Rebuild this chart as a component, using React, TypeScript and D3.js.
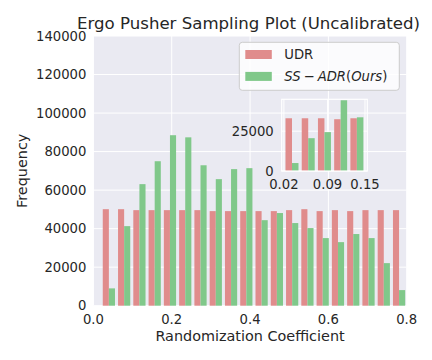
import * as d3 from "d3";
import React from "react";

// histogram bin edges + counts
const binEdges = [
  0.02, 0.059, 0.098, 0.137, 0.176, 0.215, 0.254, 0.293, 0.332, 0.371, 0.41,
  0.449, 0.488, 0.527, 0.566, 0.605, 0.644, 0.683, 0.722, 0.761, 0.8,
];
const udrCounts = [
  50100, 50100, 49600, 49600, 49600, 49600, 49600, 49100, 49100, 49100, 49100,
  49100, 49600, 50100, 49100, 49600, 49100, 49600, 49600, 49600,
];
const ssAdrCounts = [
  9000, 41300, 63100, 75000, 88500, 87400, 72900, 65700, 70900, 71400, 44400,
  48100, 42900, 40300, 35100, 33000, 37200, 35100, 22100, 8100,
];
const xTicks = [0.0, 0.2, 0.4, 0.6, 0.8];
const yTicks = [0, 20000, 40000, 60000, 80000, 100000, 120000, 140000];

// zoomed inset (first part of the range)
const insetEdges = [0.02, 0.046, 0.072, 0.098, 0.124, 0.15];
const insetUdr = [33100, 33100, 33100, 32500, 33100];
const insetSsAdr = [5000, 20600, 24400, 44400, 33700];
const insetXTicks = [0.02, 0.09, 0.15];
const insetYTicks = [0, 25000];

const seriesNames = ["UDR", "SS-ADR(Ours)"];
const colors = ["#e08c8c", "#80c88a"];

const FONT = "DejaVu Sans, sans-serif";
const TEXT = "#262626";
const BG = "#eaeaf2";

const App = () => {
  const ref = React.useRef<SVGSVGElement>(null);

  React.useEffect(() => {
    const svg = d3.select(ref.current);
    svg.selectAll("*").remove();

    const margin = { top: 36, left: 93.4, right: 25.3, bottom: 54.3 };
    const width = 432 - margin.left - margin.right,
      height = 360 - margin.top - margin.bottom;

    const graph = svg
      .append("g")
      .attr("transform", `translate(${margin.left},${margin.top})`);

    graph
      .append("rect")
      .attr("width", width)
      .attr("height", height)
      .attr("fill", BG);

    const x = d3.scaleLinear().domain([0, 0.8]).range([0, width]);
    const y = d3.scaleLinear().domain([0, 140000]).range([height, 0]);

    // grid
    graph
      .selectAll(".gx")
      .data(xTicks)
      .enter()
      .append("line")
      .attr("x1", (d) => x(d))
      .attr("x2", (d) => x(d))
      .attr("y1", 0)
      .attr("y2", height)
      .attr("stroke", "white")
      .attr("stroke-width", 1);
    graph
      .selectAll(".gy")
      .data(yTicks)
      .enter()
      .append("line")
      .attr("x1", 0)
      .attr("x2", width)
      .attr("y1", (d) => y(d))
      .attr("y2", (d) => y(d))
      .attr("stroke", "white")
      .attr("stroke-width", 1);

    // bars: matplotlib style side-by-side hist (rwidth 0.8 split in 2)
    const drawHist = (g, xs, ys, edges, series) => {
      series.forEach((vals, si) => {
        g.selectAll(".bar" + si)
          .data(vals)
          .enter()
          .append("rect")
          .attr("x", (d, i) => {
            const w = edges[i + 1] - edges[i];
            return xs(edges[i] + 0.1 * w + si * 0.4 * w);
          })
          .attr("width", (d, i) => {
            const w = edges[i + 1] - edges[i];
            return xs(edges[i] + 0.4 * w) - xs(edges[i]);
          })
          .attr("y", (d) => ys(d))
          .attr("height", (d) => ys(0) - ys(d))
          .attr("fill", colors[si]);
      });
    };
    drawHist(graph, x, y, binEdges, [udrCounts, ssAdrCounts]);

    // tick labels
    graph
      .selectAll(".xt")
      .data(xTicks)
      .enter()
      .append("text")
      .attr("x", (d) => x(d))
      .attr("y", height + 18.5)
      .attr("text-anchor", "middle")
      .attr("font-family", FONT)
      .attr("font-size", 13.2)
      .attr("fill", TEXT)
      .text((d) => d.toFixed(1));
    graph
      .selectAll(".yt")
      .data(yTicks)
      .enter()
      .append("text")
      .attr("x", -7)
      .attr("y", (d) => y(d))
      .attr("dy", "0.35em")
      .attr("text-anchor", "end")
      .attr("font-family", FONT)
      .attr("font-size", 13.2)
      .attr("fill", TEXT)
      .text((d) => d);

    // axis labels + title
    graph
      .append("text")
      .attr("x", width / 2)
      .attr("y", height + 35.5)
      .attr("text-anchor", "middle")
      .attr("font-family", FONT)
      .attr("font-size", 14.4)
      .attr("fill", TEXT)
      .text("Randomization Coefficient");
    graph
      .append("text")
      .attr("transform", `translate(${-66},${height / 2}) rotate(-90)`)
      .attr("text-anchor", "middle")
      .attr("font-family", FONT)
      .attr("font-size", 14.4)
      .attr("fill", TEXT)
      .text("Frequency");
    graph
      .append("text")
      .attr("x", width / 2 - 1.5)
      .attr("y", -6.7)
      .attr("text-anchor", "middle")
      .attr("font-family", FONT)
      .attr("font-size", 16.6)
      .attr("fill", TEXT)
      .text("Ergo Pusher Sampling Plot (Uncalibrated)");

    // legend
    const legend = graph
      .append("g")
      .attr("transform", `translate(${239.3 - margin.left},${42.3 - margin.top})`);
    legend
      .append("rect")
      .attr("width", 160)
      .attr("height", 48)
      .attr("rx", 3)
      .attr("fill", "white")
      .attr("fill-opacity", 0.8)
      .attr("stroke", "#cccccc")
      .attr("stroke-width", 1);
    seriesNames.forEach((name, i) => {
      legend
        .append("rect")
        .attr("x", 6)
        .attr("y", 7.7 + i * 21.9)
        .attr("width", 26.5)
        .attr("height", 9)
        .attr("fill", colors[i]);
    });
    legend
      .append("text")
      .attr("x", 45)
      .attr("y", 17.2)
      .attr("font-family", FONT)
      .attr("font-size", 13.2)
      .attr("fill", TEXT)
      .text(seriesNames[0]);
    const t2 = legend
      .append("text")
      .attr("x", 45)
      .attr("y", 39.1)
      .attr("font-family", FONT)
      .attr("font-size", 13.2)
      .attr("fill", TEXT);
    t2.append("tspan").attr("font-style", "italic").text("SS");
    t2.append("tspan").attr("dx", 3).text("\u2212");
    t2.append("tspan").attr("dx", 3).attr("font-style", "italic").text("ADR");
    t2.append("tspan").text("(");
    t2.append("tspan").attr("font-style", "italic").text("Ours");
    t2.append("tspan").text(")");

    // inset axes
    const inset = { left: 281.7, top: 99.3, right: 367.3, bottom: 171 };
    const ig = svg
      .append("g")
      .attr("transform", `translate(${inset.left},${inset.top})`);
    const iw = inset.right - inset.left,
      ih = inset.bottom - inset.top;
    const ix = d3.scaleLinear().domain([0.0165, 0.1537]).range([0, iw]);
    const iy = d3.scaleLinear().domain([0, 45000]).range([ih, 0]);

    ig.selectAll(".igx")
      .data(insetXTicks)
      .enter()
      .append("line")
      .attr("x1", (d) => ix(d))
      .attr("x2", (d) => ix(d))
      .attr("y1", 0)
      .attr("y2", ih)
      .attr("stroke", "white");
    ig.selectAll(".igy")
      .data(insetYTicks)
      .enter()
      .append("line")
      .attr("x1", 0)
      .attr("x2", iw)
      .attr("y1", (d) => iy(d))
      .attr("y2", (d) => iy(d))
      .attr("stroke", "white");

    drawHist(ig, ix, iy, insetEdges, [insetUdr, insetSsAdr]);

    ig.append("rect")
      .attr("width", iw)
      .attr("height", ih)
      .attr("fill", "none")
      .attr("stroke", "white")
      .attr("stroke-width", 1.2);

    ig.selectAll(".ixt")
      .data(insetXTicks)
      .enter()
      .append("text")
      .attr("x", (d) => ix(d))
      .attr("y", ih + 18.3)
      .attr("text-anchor", "middle")
      .attr("font-family", FONT)
      .attr("font-size", 13.2)
      .attr("fill", TEXT)
      .text((d) => d.toFixed(2));
    ig.selectAll(".iyt")
      .data(insetYTicks)
      .enter()
      .append("text")
      .attr("x", -8)
      .attr("y", (d) => iy(d))
      .attr("dy", "0.35em")
      .attr("text-anchor", "end")
      .attr("font-family", FONT)
      .attr("font-size", 13.2)
      .attr("fill", TEXT)
      .text((d) => d);
  }, []);

  return (
    <svg
      ref={ref}
      width={432}
      height={360}
      style={{ position: "absolute", left: 0, top: 0, background: "white" }}
    />
  );
};

export default App;
